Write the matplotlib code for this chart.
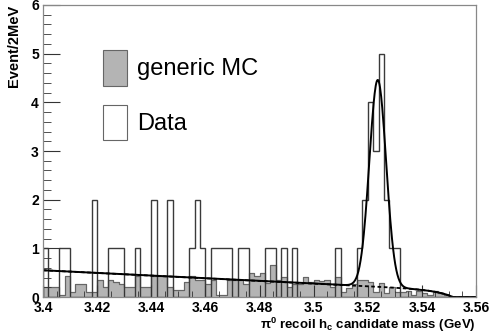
import numpy as np
import matplotlib
matplotlib.use("Agg")
import matplotlib.pyplot as plt
from matplotlib.patches import Patch
from matplotlib.ticker import MultipleLocator

plt.rcParams['font.family'] = 'Liberation Sans'
plt.rcParams['mathtext.fontset'] = 'custom'
plt.rcParams['mathtext.rm'] = 'Liberation Sans:bold'
plt.rcParams['mathtext.it'] = 'Liberation Sans:bold'
plt.rcParams['mathtext.bf'] = 'Liberation Sans:bold'

# histogram range, 2 MeV bins
x_lo, x_hi, n_bins = 3.40, 3.56, 80

# data, events per bin
data_counts = [1, 0, 0, 1, 1, 0, 0, 0, 0, 2,
               0, 0, 1, 1, 1, 0, 0, 1, 0, 0,
               2, 0, 0, 2, 0, 0, 0, 1, 2, 1,
               0, 1, 1, 1, 1, 0, 1, 1, 0, 0,
               0, 1, 1, 0, 1, 0, 1, 0, 0, 0,
               0, 0, 0, 0, 1, 0, 0, 0, 1, 2,
               4, 3, 5, 2, 1, 1, 0, 0, 0, 0,
               0, 0, 0, 0, 0, 0, 0, 0, 0, 0]

# generic MC (scaled)
mc_counts = [0.20, 0.20, 0.20, 0.05, 0.43, 0.10, 0.27, 0.27, 0.10, 0.10,
             0.35, 0.20, 0.35, 0.30, 0.27, 0.20, 0.20, 0.43, 0.20, 0.20,
             0.43, 0.43, 0.43, 0.20, 0.15, 0.15, 0.30, 0.43, 0.35, 0.35,
             0.26, 0.35, 0.04, 0.04, 0.35, 0.35, 0.35, 0.26, 0.50, 0.43,
             0.50, 0.28, 0.66, 0.35, 0.42, 0.20, 0.27, 0.27, 0.42, 0.30,
             0.35, 0.32, 0.35, 0.20, 0.42, 0.11, 0.19, 0.26, 0.35, 0.35,
             0.30, 0.11, 0.28, 0.08, 0.20, 0.11, 0.10, 0.13, 0.04, 0.13,
             0.08, 0.05, 0.13, 0.08, 0.04, 0.00, 0.00, 0.00, 0.00, 0.00]

# fit result (gaussian signal + linear background with kinematic cutoff)
sig_mean, sig_sigma, sig_amp = 3.5237, 0.0031, 4.25
bkg_p0, bkg_slope = 0.55, -2.73
bkg_end, bkg_width = 3.5515, 0.0056


def background(x):
    lin = bkg_p0 + bkg_slope * (x - x_lo)
    cut = np.where(x < bkg_end, 1 - np.exp(-(bkg_end - x) / bkg_width), 0.0)
    return lin * cut


def total(x):
    return background(x) + sig_amp * np.exp(-0.5 * ((x - sig_mean) / sig_sigma) ** 2)


edges = np.linspace(x_lo, x_hi, n_bins + 1)
xs = np.linspace(x_lo, x_hi, 800)

fig = plt.figure(figsize=(4.9, 3.33), dpi=100)
ax = fig.add_axes([0.0878, 0.108, 0.8836, 0.877])

ax.stairs(mc_counts, edges, fill=True, facecolor='#b4b4b4', edgecolor='#666666', lw=0.8)
ax.stairs(mc_counts, edges, color='#666666', lw=0.8)
ax.stairs(data_counts, edges, color='#3a3a3a', lw=1.0)
ax.plot(xs, background(xs), color='black', lw=1.3, linestyle=(0, (2, 1.5)))
ax.plot(xs, total(xs), color='black', lw=1.4)

ax.set_xlim(x_lo, x_hi)
ax.set_ylim(0, 6)
ax.xaxis.set_minor_locator(MultipleLocator(0.005))
ax.yaxis.set_major_locator(MultipleLocator(1))
ax.yaxis.set_minor_locator(MultipleLocator(0.2))
ax.set_xticks(np.arange(3.40, 3.5601, 0.02))
ax.set_xticklabels(['3.4', '3.42', '3.44', '3.46', '3.48', '3.5', '3.52', '3.54', '3.56'])
ax.tick_params(which='both', direction='in', top=False, right=False, colors='#333333',
               labelcolor='black', labelsize=10)
ax.tick_params(axis='y', which='major', length=12, pad=3)
ax.tick_params(axis='y', which='minor', length=6)
ax.tick_params(axis='x', which='major', length=9, pad=3)
ax.tick_params(axis='x', which='minor', length=4.5)
for lab in ax.get_xticklabels() + ax.get_yticklabels():
    lab.set_fontweight('bold')
for s in ax.spines.values():
    s.set_color('#888888')
    s.set_linewidth(0.9)

ax.set_ylabel('Event/2MeV', fontsize=10.5, fontweight='bold', loc='top', labelpad=7)
ax.set_xlabel(r'π$^{0}$ recoil h$_{c}$ candidate mass (GeV)', fontsize=9.5,
              fontweight='bold', loc='right')
ax.xaxis.set_label_coords(1.0, -0.063)

handles = [Patch(facecolor='#b4b4b4', edgecolor='#666666', lw=0.8),
           Patch(facecolor='white', edgecolor='#666666', lw=0.8)]
ax.legend(handles, ['generic MC', 'Data'], loc='upper left', bbox_to_anchor=(0.139, 0.846),
          frameon=False, fontsize=17, handlelength=1.0, handleheight=1.95,
          handletextpad=0.45, labelspacing=0.8, borderpad=0, borderaxespad=0)

fig.savefig('out.png', dpi=100)
